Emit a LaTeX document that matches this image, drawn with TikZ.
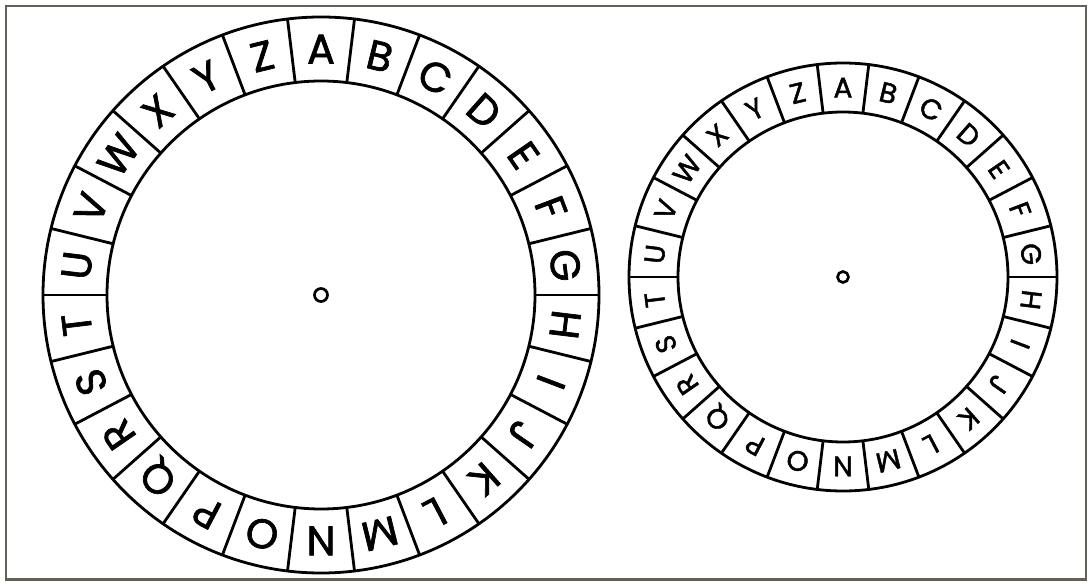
\documentclass[tikz,border=0pt]{standalone}
\usepackage{fontspec}
\setmainfont{Poppins}
\newfontfamily\wheelfont[FakeBold=1.6]{Poppins}
\usetikzlibrary{positioning}

\definecolor{framegray}{RGB}{100,96,86}

\tikzset{
  rim/.style={line width=2.1pt},
  biglet/.style={font=\wheelfont\fontsize{31}{31}\selectfont, inner sep=0pt, text height=21.7pt, text depth=0pt},
  smalllet/.style={font=\wheelfont\fontsize{21}{21}\selectfont, inner sep=0pt, text height=14.7pt, text depth=0pt}
}

\begin{document}
\begin{tikzpicture}[x=0.75pt,y=0.75pt]
\useasboundingbox (0,0) rectangle (1089,583);
% Frame
\fill[white] (0,0) rectangle (1089,583);
\draw[framegray,line width=2.2pt] (6,3.5) rectangle (1086,577);

% Big wheel (left)
\begin{scope}[shift={(321,288)}]
\draw[rim] (0,0) circle (278);
\draw[rim] (0,0) circle (214);
\draw[line width=2pt] (0,0) circle (6.5);
\foreach \l [count=\i from 0] in {A,B,C,D,E,F,G,H,I,J,K,L,M,N,O,P,Q,R,S,T,U,V,W,X,Y,Z}
{
  \pgfmathsetmacro{\a}{90-\i*360/26}
  \pgfmathsetmacro{\b}{\a-180/26}
  \draw[rim] (\b:214) -- (\b:278);
  \node[biglet,rotate=\a-90] (big-\l) at (\a:246) {\l};
}
\end{scope}

% Small wheel (right)
\begin{scope}[shift={(843,306)}]
\draw[rim] (0,0) circle (214);
\draw[rim] (0,0) circle (165);
\draw[line width=2pt] (0,0) circle (5.5);
\foreach \l [count=\i from 0] in {A,B,C,D,E,F,G,H,I,J,K,L,M,N,O,P,Q,R,S,T,U,V,W,X,Y,Z}
{
  \pgfmathsetmacro{\a}{90-\i*360/26}
  \pgfmathsetmacro{\b}{\a-180/26}
  \draw[rim] (\b:165) -- (\b:214);
  \node[smalllet,rotate=\a-90] (small-\l) at (\a:189.5) {\l};
}
\end{scope}
\end{tikzpicture}
\end{document}
